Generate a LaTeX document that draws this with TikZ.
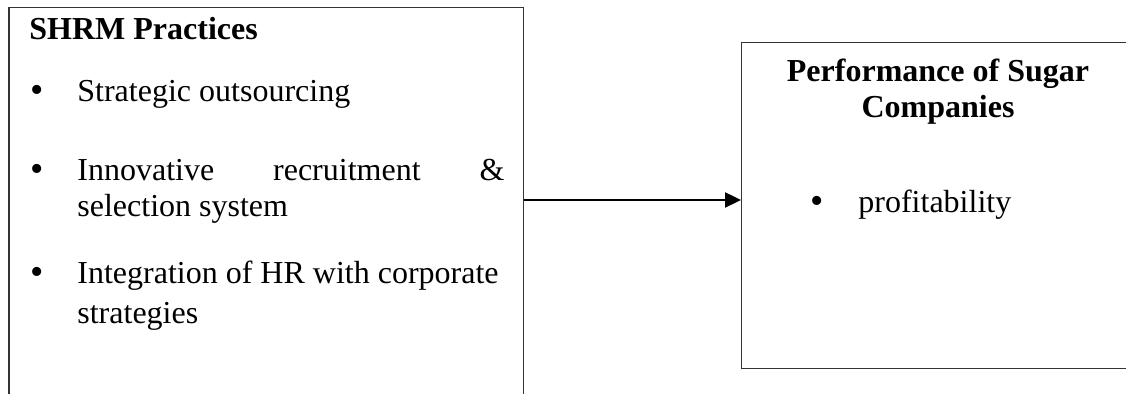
\documentclass[tikz,border=0pt]{standalone}
\usepackage{fontspec}
\setmainfont{Liberation Serif}
\usetikzlibrary{arrows.meta}

\begin{document}
\begin{tikzpicture}[x=0.5pt, y=-0.5pt,
    panel/.style={draw=black!80, line width=0.6pt, inner sep=0pt, anchor=north west},
    txt/.style={inner sep=0pt, anchor=base west, font=\fontsize{16}{18}\selectfont},
    head/.style={txt, font=\fontsize{16}{18}\selectfont\bfseries},
    dot/.style={inner sep=0pt, anchor=base, font=\fontsize{19}{18}\selectfont}]
    \useasboundingbox (0,0) rectangle (1126,394);
    \clip (0,0) rectangle (1126,394);

    % left box, open at the bottom
    \node[panel, minimum width=257.2pt, minimum height=215pt] (shrm) at (8.3,7) {};
    \node[head] (shrmtitle) at (29,40) {SHRM Practices};

    \node[dot] (b1) at (37,103) {•};
    \node[txt] (out) at (77,102) {Strategic outsourcing};

    \node[dot] (b2) at (37,182) {•};
    \node[txt] (inno) at (77,181) {\makebox[213.5pt]{Innovative\hfill recruitment\hfill\&}};
    \node[txt] (sel) at (77,217) {selection system};

    \node[dot] (b3) at (37,285) {•};
    \node[txt] (integ) at (77,284) {Integration of HR with corporate};
    \node[txt] (strat) at (77,324) {strategies};

    % right box
    \node[panel, minimum width=197pt, minimum height=163pt] (perf) at (741,42) {};
    \node[head, anchor=base] (perftitle) at (938,82) {Performance of Sugar};
    \node[head, anchor=base] (comp) at (938,118) {Companies};

    \node[dot] (b4) at (817,214) {•};
    \node[txt] (profit) at (858,213) {profitability};

    \coordinate (mid) at (0,200);
    \draw[line width=1.2pt, -{Triangle[length=8pt, width=7.5pt]}] (mid -| shrm.east) -- (mid -| perf.west);
\end{tikzpicture}
\end{document}
